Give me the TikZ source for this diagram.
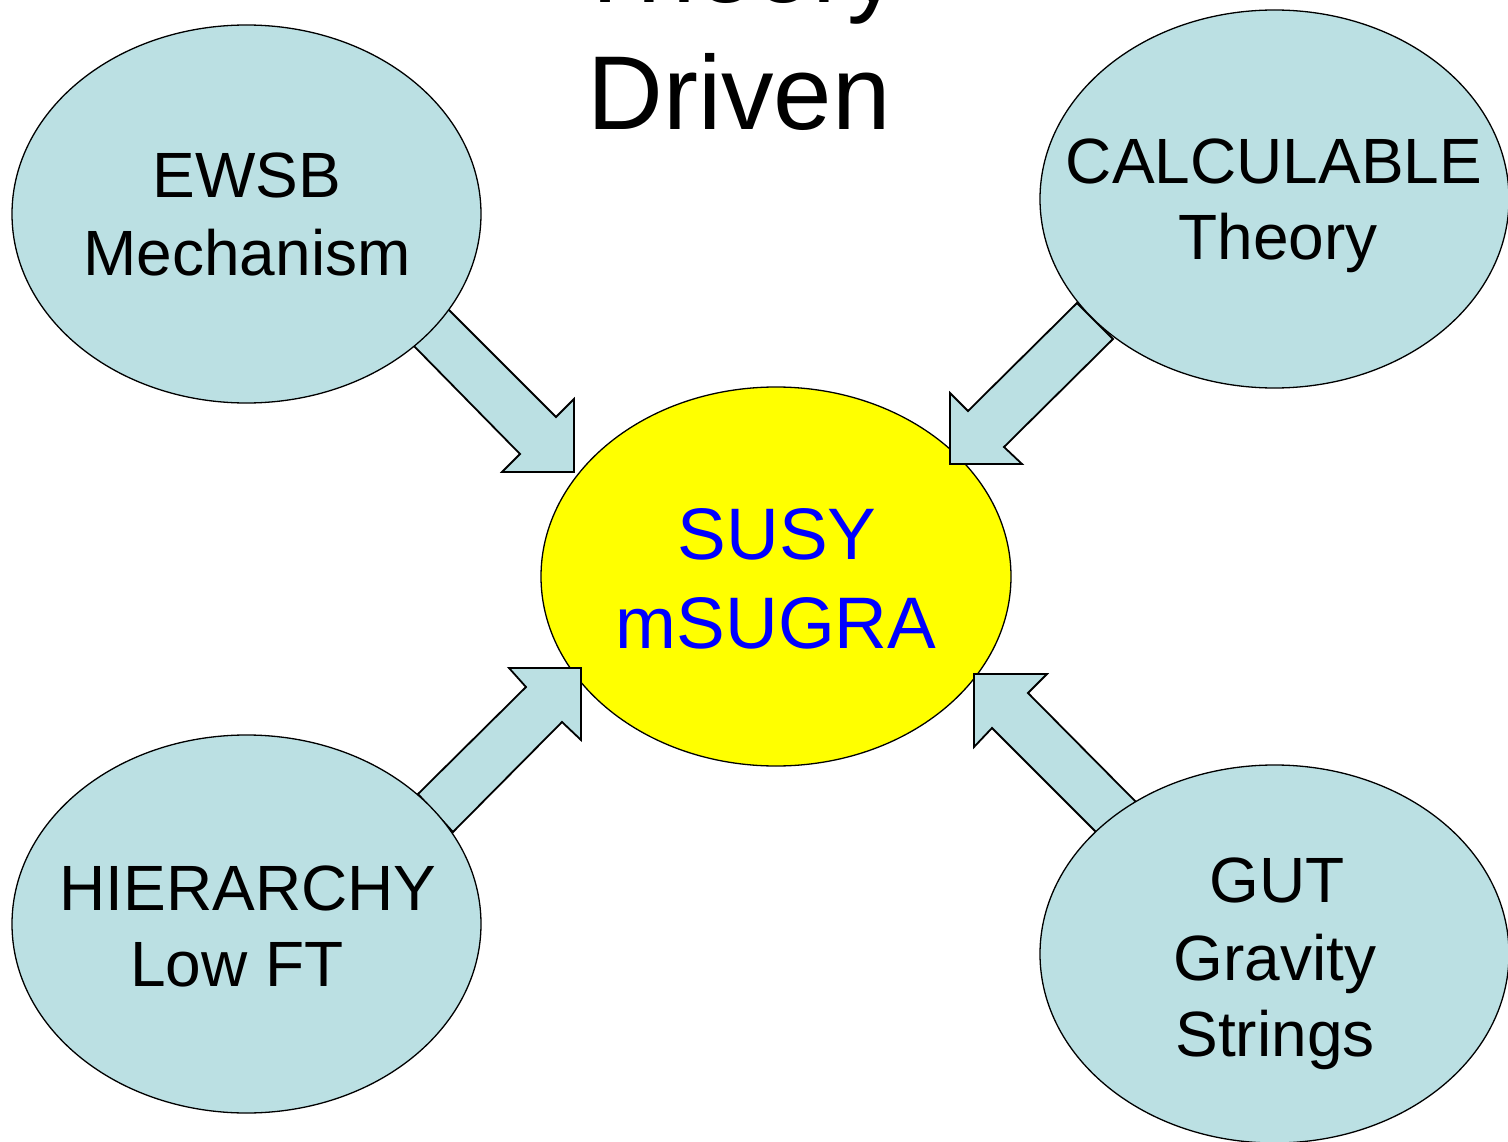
\documentclass[tikz,border=0pt]{standalone}
\usepackage{fontspec}
\setmainfont{Liberation Sans}
\usetikzlibrary{shapes.geometric}
\definecolor{pale}{RGB}{187,224,227}
\definecolor{txtblue}{RGB}{0,0,255}
\definecolor{hot}{RGB}{255,255,0}
\begin{document}
\begin{tikzpicture}[x=1pt,y=-1pt,
  oval/.style={ellipse, draw=black, line width=1.3pt, fill=pale,
    minimum width=469pt, minimum height=378pt, inner sep=0pt},
  core/.style={oval, fill=hot, minimum width=470pt, minimum height=379pt},
  lbl/.style={anchor=base, inner sep=0pt, font=\fontsize{64}{77}\selectfont},
  corelbl/.style={anchor=base, inner sep=0pt, text=txtblue, font=\fontsize{73}{88}\selectfont},
  ttl/.style={anchor=base, inner sep=0pt, font=\fontsize{105}{130}\selectfont},
  blockarrow/.style={draw=black, line width=1.8pt, fill=pale, line join=miter}]
\useasboundingbox (0,0) rectangle (1508,1142);
\clip (0,0) rectangle (1508,1142);
\fill[white] (0,0) rectangle (1508,1142);

% title
\node[ttl] (t1) at (737,3) {Theory};
\node[ttl] (t2) at (739,130) {Driven};

% centre
\node[core] (susy) at (776,576.5) {};

% block arrows
\draw[blockarrow] (448,309) -- (556,417) -- (574,399) -- (574,472) -- (502,472) -- (520,454) -- (412,344) -- cycle;
\draw[blockarrow] (1077,303) -- (1113,339) -- (1004,447) -- (1022,464) -- (950,464) -- (950,393) -- (968,411) -- cycle;
\draw[blockarrow] (418,794) -- (526,687) -- (509,668) -- (581,668) -- (581,740) -- (562,722) -- (453,832) -- cycle;
\draw[blockarrow] (1136,802) -- (1028,693) -- (1047,674) -- (974,674) -- (974,747) -- (992,728) -- (1101,837) -- cycle;

% outer ovals
\node[oval] (ewsb) at (246.5,214) {};
\node[oval] (calc) at (1274.5,199) {};
\node[oval] (hier) at (246.5,924) {};
\node[oval] (gut)  at (1274.5,954) {};

% labels
\node[lbl] (ewsb1) at (247,198) {EWSB};
\node[lbl] (ewsb2) at (247,276) {Mechanism};
\node[lbl] (calc1) at (1274,184) {CALCULABLE};
\node[lbl] (calc2) at (1278,260) {Theory};
\node[lbl] (hier1) at (248,910) {HIERARCHY};
\node[lbl] (hier2) at (237,986) {Low FT};
\node[lbl] (gut1) at (1277,902) {GUT};
\node[lbl] (gut2) at (1275,980) {Gravity};
\node[lbl] (gut3) at (1275,1056) {Strings};
\node[corelbl] (susy1) at (777,559) {SUSY};
\node[corelbl] (susy2) at (776,648) {mSUGRA};
\end{tikzpicture}
\end{document}
